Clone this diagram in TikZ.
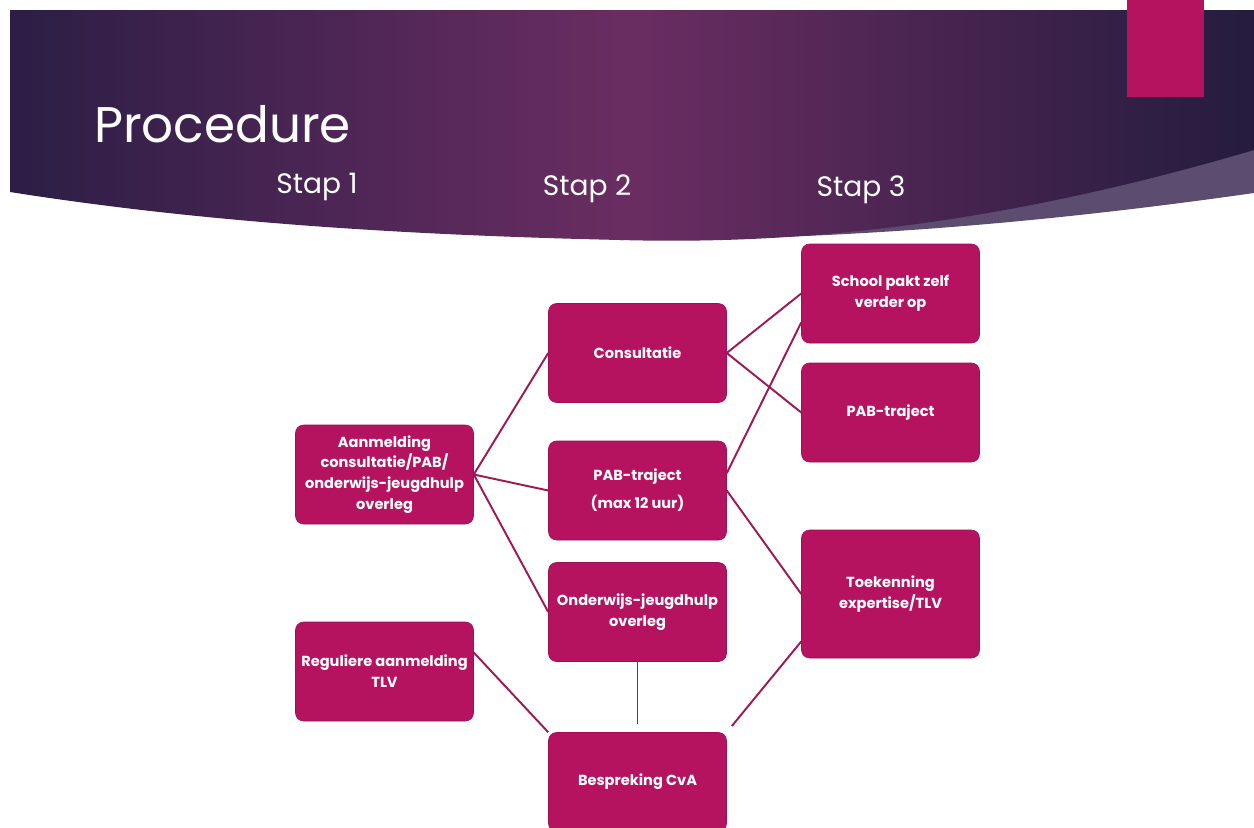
\documentclass[tikz,border=0pt]{standalone}
\usepackage{fontspec}
\setmainfont{Poppins}
\usepackage{tikz}
\usetikzlibrary{positioning}

\definecolor{boxpink}{RGB}{181,19,96}
\definecolor{linkpink}{RGB}{158,24,84}
\definecolor{banleft}{RGB}{44,30,70}
\definecolor{banmid}{RGB}{106,45,98}
\definecolor{banright}{RGB}{36,28,62}
\definecolor{wedge}{RGB}{92,76,112}

\begin{document}
\begin{tikzpicture}[x=0.2mm,y=-0.2mm,
		stepbox/.style={rectangle, rounded corners=1.6mm, fill=boxpink, draw=boxpink!85!black, line width=0.3pt,
			minimum width=3.56cm, minimum height=1.98cm, inner sep=2pt, align=center, text=white,
			font=\bfseries\fontsize{8.3}{11.8}\selectfont},
		link/.style={draw=linkpink, line width=1.1pt},
		stap/.style={text=white, anchor=base, font=\fontsize{16}{18}\selectfont}]
			\clip (0,0) rectangle (1254,828);
			\useasboundingbox (0,0) rectangle (1254,828);
			% banner
			\fill [wedge] (620,240) .. controls (850,240) and (1050,222) .. (1254,193) -- (1254,140) -- (620,140) -- cycle;
			\shade [left color=banleft, right color=banright, middle color=banmid]
				(10,10) -- (1254,10) -- (1254,150) .. controls (1000,225) and (800,245) .. (620,240)
				.. controls (400,235) and (200,222) .. (10,192) -- cycle;
			\fill [boxpink] (1127,0) rectangle (1204,97);
			\node [text=white, anchor=base west, font=\fontsize{28.5}{30}\selectfont] (title) at (88,142) {Procedure};
			\node [stap] (stap1) at (317,193) {Stap 1};
			\node [stap] (stap2) at (587,195) {Stap 2};
			\node [stap] (stap3) at (861,196) {Stap 3};
			% stap 1
			\node [stepbox] (aanm) at (384.5,474.5) {Aanmelding\\consultatie/PAB/\\onderwijs-jeugdhulp\\overleg};
			\node [stepbox] (reg) at (384.5,671.5) {Reguliere aanmelding\\TLV};
			% stap 2
			\node [stepbox] (cons) at (637.5,353) {Consultatie};
			\node [stepbox] (pab) at (637.5,490.5) {PAB-traject\\[4pt](max 12 uur)};
			\node [stepbox] (ond) at (637.5,612) {Onderwijs-jeugdhulp\\overleg};
			\node [stepbox] (besp) at (637.5,782) {Bespreking CvA};
			% stap 3
			\node [stepbox] (school) at (890.5,293.5) {School pakt zelf\\verder op};
			\node [stepbox] (pabr) at (890.5,412.5) {PAB-traject};
			\node [stepbox, minimum height=2.56cm] (toek) at (890.5,594) {Toekenning\\expertise/TLV};
			% verbindingen
			\draw [link] (aanm.east) -- (cons.west);
			\draw [link] (aanm.east) -- (pab.west);
			\draw [link] (aanm.east) -- (ond.west);
			\draw [link] (cons.east) -- (school.west);
			\draw [link] (cons.east) -- (pabr.west);
			\draw [link] (pab.11) -- (school.198);
			\draw [link] (pab.east) -- (toek.west);
			\draw [link, shorten >=1.6mm] (ond.south) -- (besp.north);
			\draw [link] (reg.12) -- (besp.north west);
			\draw [link, shorten >=1.6mm] (toek.208) -- (besp.north east);
		\end{tikzpicture}
\end{document}
